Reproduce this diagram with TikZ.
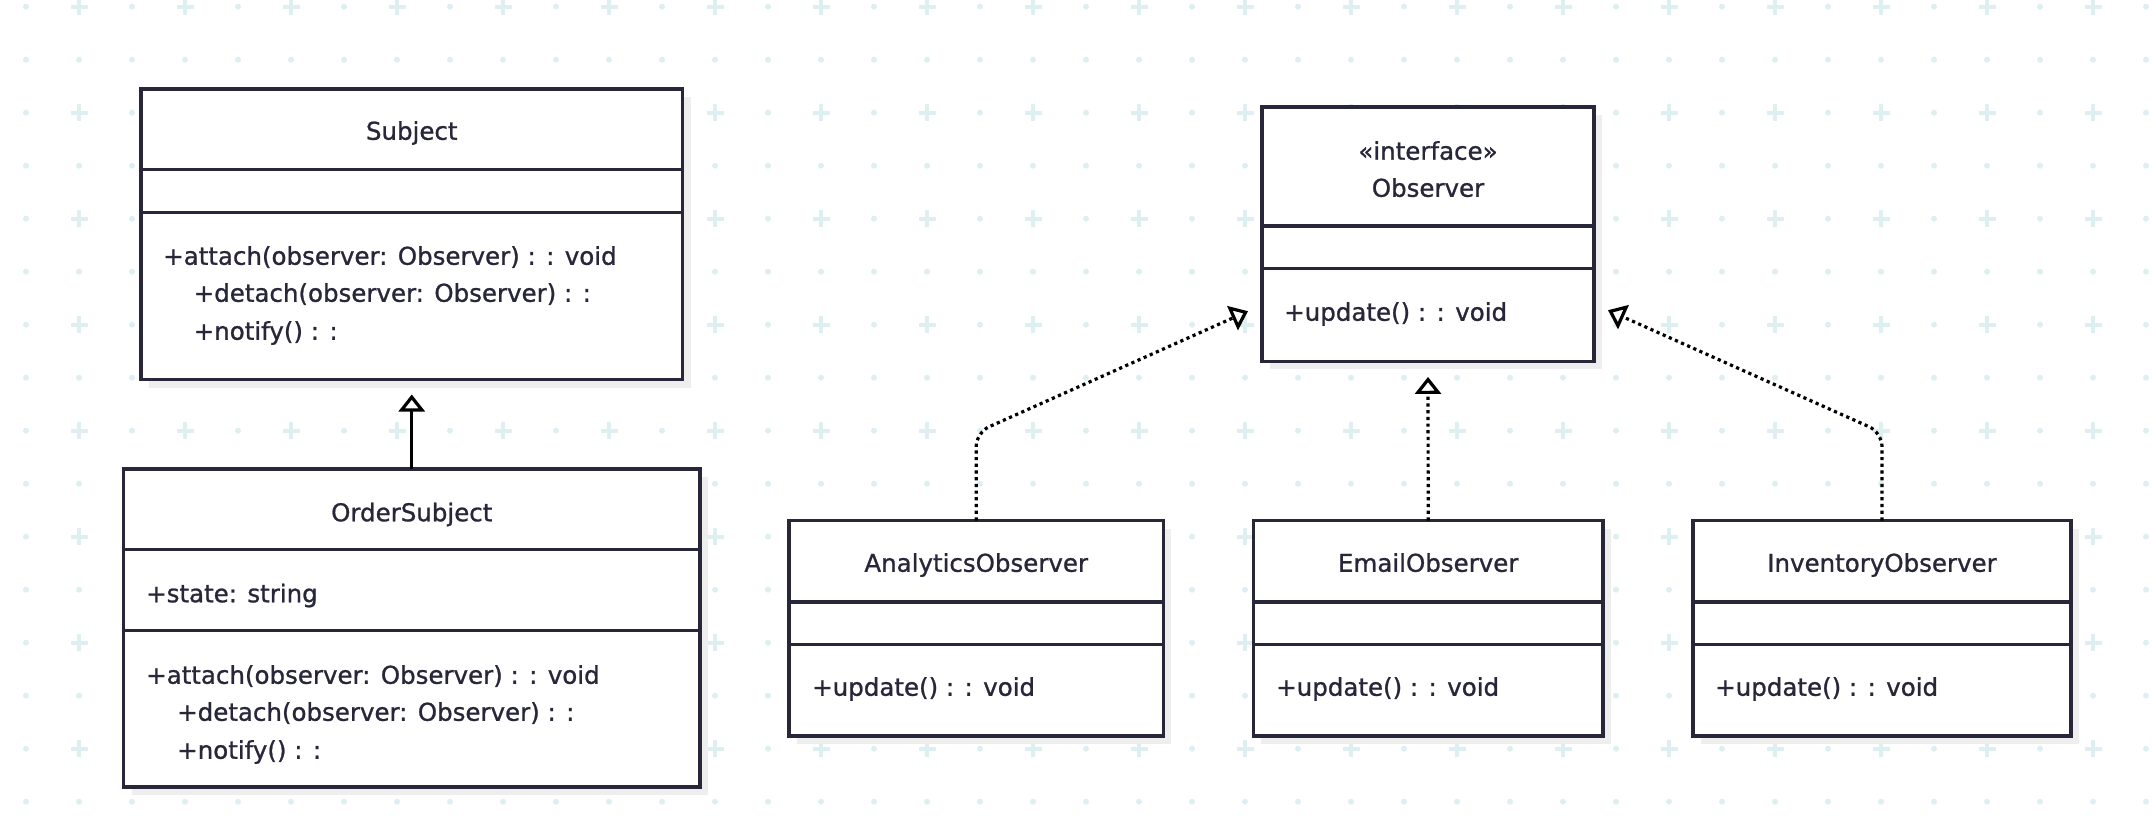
\documentclass[tikz,border=0pt]{standalone}
\usepackage{fontspec}
\setmainfont{DejaVu Sans}
\newfontfamily\umlfont{DejaVu Sans}[FakeBold=1]
\usetikzlibrary{arrows.meta,shadows}
\definecolor{inkcol}{RGB}{40,39,58}
\definecolor{gridcol}{RGB}{222,239,241}
\definecolor{shadowcol}{RGB}{238,238,238}
\tikzset{
  gridplus/.pic={
    \draw[gridcol,line width=4pt] (-8.5,0) -- (8.5,0);
    \draw[gridcol,line width=4pt] (0,-8.5) -- (0,8.5);
  },
  classbox/.style={draw=inkcol,line width=3.5pt,fill=white,outer sep=0pt,
    drop shadow={shadow xshift=8pt,shadow yshift=-8pt,fill=shadowcol,opacity=1}},
  divider/.style={draw=inkcol,line width=3.5pt},
  classname/.style={text=inkcol,inner sep=0pt,text height=17.5pt,text depth=0pt,
    font=\umlfont\fontsize{24.5}{28}\selectfont},
  member/.style={classname,anchor=west},
  inherit/.style={draw=black,line width=3.2pt,
    -{Triangle[length=17pt,width=26pt,fill=white]}},
  realize/.style={inherit,dash pattern=on 3.2pt off 3.5pt},
}
\begin{document}
\begin{tikzpicture}[x=1pt,y=-1pt]
\useasboundingbox (0,0) rectangle (2152,840);
\fill[white] (0,0) rectangle (2152,840);
% background grid
\foreach \i in {0,...,40}{
  \foreach \j in {0,...,15}{
    \pgfmathtruncatemacro{\isplus}{and(isodd(\i),iseven(\j))}
    \ifnum\isplus=1
      \path pic at (26+53*\i,6.7+53*\j) {gridplus};
    \else
      \fill[gridcol] (26+53*\i,6.7+53*\j) circle (3pt);
    \fi
  }
}
% Subject
\node[classbox,minimum width=541.5pt,minimum height=290.5pt] (subject) at (411.75,234.25) {};
\draw[divider] (subject.west |- 0,169.5) -- (subject.east |- 0,169.5);
\draw[divider] (subject.west |- 0,212.7) -- (subject.east |- 0,212.7);
\node[classname] (subjectname) at (subject.center |- 0,131) {Subject};
\node[member] (subjectop1) at (163,256) {+attach(observer: Observer) : : void};
\node[member] (subjectop2) at (193.5,293) {+detach(observer: Observer) : :};
\node[member] (subjectop3) at (193.5,331) {+notify() : :};
% OrderSubject
\node[classbox,minimum width=576.5pt,minimum height=318pt] (ordersubject) at (411.75,628) {};
\draw[divider] (ordersubject.west |- 0,549.3) -- (ordersubject.east |- 0,549.3);
\draw[divider] (ordersubject.west |- 0,630.7) -- (ordersubject.east |- 0,630.7);
\node[classname] (ordername) at (ordersubject.center |- 0,512.5) {OrderSubject};
\node[member] (orderattr) at (146,593.5) {+state: string};
\node[member] (orderop1) at (146,675) {+attach(observer: Observer) : : void};
\node[member] (orderop2) at (177,712) {+detach(observer: Observer) : :};
\node[member] (orderop3) at (177,750) {+notify() : :};
% Observer
\node[classbox,minimum width=332pt,minimum height=254.5pt] (observer) at (1428,234.2) {};
\draw[divider] (observer.west |- 0,226) -- (observer.east |- 0,226);
\draw[divider] (observer.west |- 0,268.7) -- (observer.east |- 0,268.7);
\node[classname] (observerstereo) at (observer.center |- 0,151) {«interface»};
\node[classname] (observername) at (observer.center |- 0,188) {Observer};
\node[member] (observerop) at (1284,312) {+update() : : void};
% AnalyticsObserver
\node[classbox,minimum width=374.3pt,minimum height=215.5pt] (analytics) at (976.2,628.25) {};
\draw[divider] (analytics.west |- 0,602) -- (analytics.east |- 0,602);
\draw[divider] (analytics.west |- 0,644.5) -- (analytics.east |- 0,644.5);
\node[classname] (analyticsname) at (analytics.center |- 0,563) {AnalyticsObserver};
\node[member] (analyticsop) at (812,687) {+update() : : void};
% EmailObserver
\node[classbox,minimum width=349.7pt,minimum height=215.5pt] (email) at (1428.2,628.25) {};
\draw[divider] (email.west |- 0,602) -- (email.east |- 0,602);
\draw[divider] (email.west |- 0,644.5) -- (email.east |- 0,644.5);
\node[classname] (emailname) at (email.center |- 0,563) {EmailObserver};
\node[member] (emailop) at (1276,687) {+update() : : void};
% InventoryObserver
\node[classbox,minimum width=378pt,minimum height=215.5pt] (inventory) at (1882,628.25) {};
\draw[divider] (inventory.west |- 0,602) -- (inventory.east |- 0,602);
\draw[divider] (inventory.west |- 0,644.5) -- (inventory.east |- 0,644.5);
\node[classname] (inventoryname) at (inventory.center |- 0,563) {InventoryObserver};
\node[member] (inventoryop) at (1715,687) {+update() : : void};
% arrow ends
\coordinate (subjecttip) at ([yshift=-15pt]subject.south);
\coordinate (observertip) at ([yshift=-15.5pt]observer.south);
\coordinate (observerleft) at ([xshift=-14pt,yshift=-77pt]observer.west);
\coordinate (observerright) at ([xshift=14pt,yshift=-76pt]observer.east);
% connectors
\draw[inherit] (ordersubject.north) -- (subjecttip);
\draw[realize] (email.north) -- (observertip);
\draw[realize,rounded corners=14pt] (analytics.north) -- ++(0,-88) -- (observerleft);
\draw[realize,rounded corners=14pt] (inventory.north) -- ++(0,-88) -- (observerright);
\end{tikzpicture}
\end{document}
